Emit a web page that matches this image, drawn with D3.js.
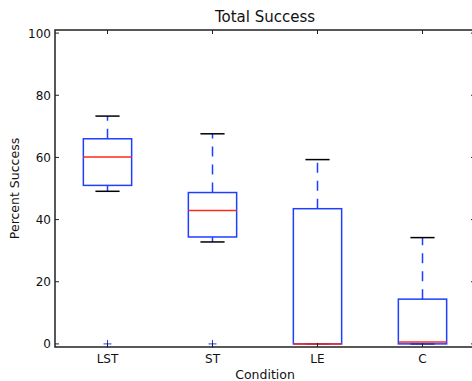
<!DOCTYPE html>
<html>
<head>
<meta charset="utf-8">
<script src="https://cdn.jsdelivr.net/npm/d3@7"></script>
<style>
  html, body { margin: 0; padding: 0; background: #fff; }
  svg { display: block; }
</style>
</head>
<body>
<svg id="chart" width="472" height="381"></svg>
<script>
// Box plot summary values
const conditions = ['LST', 'ST', 'LE', 'C'];
const whiskerLow  = [49.1, 32.8, 0,    0];
const quart1      = [51.0, 34.4, 0,    0];
const medians     = [60.1, 42.9, 0,    0.6];
const quart3      = [66.0, 48.7, 43.5, 14.4];
const whiskerHigh = [73.3, 67.6, 59.3, 34.2];
const outliers    = [[0], [0], [], []];
const yTickValues = [0, 20, 40, 60, 80, 100];

const C = {
  box: '#1f3fff',
  median: '#ff2a1a',
  cap: '#000',
  spine: '#222',
  text: '#111',
  font: 'DejaVu Sans, Verdana, sans-serif',
};

const svg = d3.select('#chart');
const margin = { left: 55, right: -3, top: 30, bottom: 34 };
const W = 472, H = 381;
const x0 = margin.left, x1 = W - margin.right;
const y0 = margin.top, y1 = H - margin.bottom;

const x = d3.scaleLinear().domain([0.5, 4.5]).range([x0, x1]);
const y = d3.scaleLinear().domain([-1, 101]).range([y1, y0]);
const boxW = 0.46;

const data = conditions.map((c, i) => ({
  c, pos: i + 1,
  lo: whiskerLow[i], q1: quart1[i], med: medians[i], q3: quart3[i], hi: whiskerHigh[i],
  fl: outliers[i],
}));

const g = svg.append('g');

// boxes
data.forEach(d => {
  const xl = x(d.pos - boxW / 2), xr = x(d.pos + boxW / 2), xc = x(d.pos);
  const capL = x(d.pos - boxW / 4), capR = x(d.pos + boxW / 4);

  // whiskers (dashed, from box outward)
  g.append('line').attr('x1', xc).attr('x2', xc).attr('y1', y(d.q3)).attr('y2', y(d.hi))
    .attr('stroke', C.box).attr('stroke-width', 1.5).attr('stroke-dasharray', '10,8');
  g.append('line').attr('x1', xc).attr('x2', xc).attr('y1', y(d.q1)).attr('y2', y(d.lo))
    .attr('stroke', C.box).attr('stroke-width', 1.5).attr('stroke-dasharray', '10,8');

  // caps
  [d.hi, d.lo].forEach(v => {
    g.append('line').attr('x1', capL).attr('x2', capR).attr('y1', y(v)).attr('y2', y(v))
      .attr('stroke', C.cap).attr('stroke-width', 1.5);
  });

  // box
  g.append('rect').attr('x', xl).attr('y', y(d.q3))
    .attr('width', xr - xl).attr('height', y(d.q1) - y(d.q3))
    .attr('fill', 'none').attr('stroke', C.box).attr('stroke-width', 1.5);

  // median
  g.append('line').attr('x1', xl).attr('x2', xr).attr('y1', y(d.med)).attr('y2', y(d.med))
    .attr('stroke', C.median).attr('stroke-width', 1.5);

  // fliers
  d.fl.forEach(v => {
    g.append('path')
      .attr('d', `M${xc - 4},${y(v)}H${xc + 4}M${xc},${y(v) - 4}V${y(v) + 4}`)
      .attr('stroke', C.box).attr('stroke-width', 1);
  });
});

// ticks (inside, on all four sides)
const tl = 4;
yTickValues.forEach(v => {
  g.append('line').attr('x1', x0).attr('x2', x0 + tl).attr('y1', y(v)).attr('y2', y(v))
    .attr('stroke', C.spine).attr('stroke-width', 1);
  g.append('line').attr('x1', x1).attr('x2', x1 - tl).attr('y1', y(v)).attr('y2', y(v))
    .attr('stroke', C.spine).attr('stroke-width', 1);
  svg.append('text').attr('x', x0 - 4).attr('y', y(v) + 4.5)
    .attr('text-anchor', 'end').attr('font-size', 12).attr('font-family', C.font)
    .attr('fill', C.text).text(v);
});
data.forEach(d => {
  const xc = x(d.pos);
  g.append('line').attr('x1', xc).attr('x2', xc).attr('y1', y1).attr('y2', y1 - tl)
    .attr('stroke', C.spine).attr('stroke-width', 1);
  g.append('line').attr('x1', xc).attr('x2', xc).attr('y1', y0).attr('y2', y0 + tl)
    .attr('stroke', C.spine).attr('stroke-width', 1);
  svg.append('text').attr('x', xc).attr('y', y1 + 16)
    .attr('text-anchor', 'middle').attr('font-size', 12).attr('font-family', C.font)
    .attr('fill', C.text).text(d.c);
});

// spines
svg.append('rect').attr('x', x0).attr('y', y0).attr('width', x1 - x0).attr('height', y1 - y0)
  .attr('fill', 'none').attr('stroke', C.spine).attr('stroke-width', 1.5);

// labels
svg.append('text').attr('x', (x0 + x1) / 2).attr('y', 22)
  .attr('text-anchor', 'middle').attr('font-size', 15).attr('font-family', C.font)
  .attr('fill', C.text).text('Total Success');
svg.append('text').attr('x', (x0 + x1) / 2).attr('y', 379)
  .attr('text-anchor', 'middle').attr('font-size', 12.5).attr('font-family', C.font)
  .attr('fill', C.text).text('Condition');
svg.append('text')
  .attr('transform', `translate(19,${(y0 + y1) / 2}) rotate(-90)`)
  .attr('text-anchor', 'middle').attr('font-size', 12.5).attr('font-family', C.font)
  .attr('fill', C.text).text('Percent Success');
</script>
</body>
</html>
